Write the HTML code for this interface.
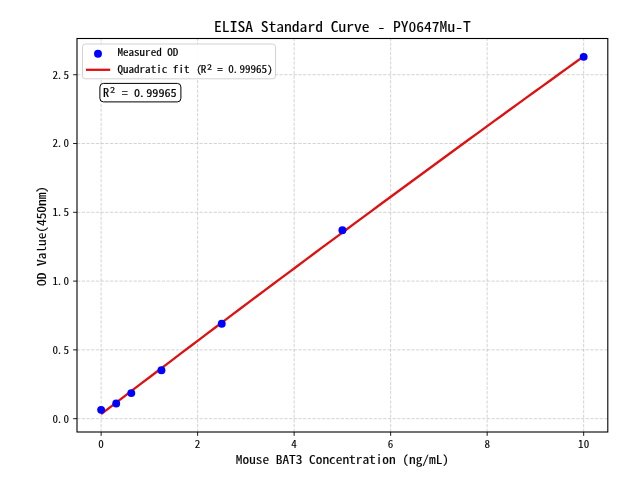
<!DOCTYPE html>
<html><head><meta charset="utf-8"><title>ELISA Standard Curve - PY0647Mu-T</title>
<style>html,body{margin:0;padding:0;background:#fff;width:640px;height:480px;overflow:hidden}svg{display:block}</style>
</head><body>
<svg width="640" height="480" viewBox="0 0 640 480">
<rect width="640" height="480" fill="#ffffff"/>
<g stroke="#b0b0b0" stroke-opacity="0.62" stroke-width="0.89" stroke-dasharray="3.29 1.42" fill="none">
<line x1="101.13" y1="432" x2="101.13" y2="38.5"/>
<line x1="197.64" y1="432" x2="197.64" y2="38.5"/>
<line x1="294.15" y1="432" x2="294.15" y2="38.5"/>
<line x1="390.65" y1="432" x2="390.65" y2="38.5"/>
<line x1="487.16" y1="432" x2="487.16" y2="38.5"/>
<line x1="583.67" y1="432" x2="583.67" y2="38.5"/>
<line x1="77" y1="418.68" x2="607.8" y2="418.68"/>
<line x1="77" y1="349.89" x2="607.8" y2="349.89"/>
<line x1="77" y1="281.1" x2="607.8" y2="281.1"/>
<line x1="77" y1="212.31" x2="607.8" y2="212.31"/>
<line x1="77" y1="143.53" x2="607.8" y2="143.53"/>
<line x1="77" y1="74.74" x2="607.8" y2="74.74"/>
</g>
<polyline points="101.13,414.11 109.31,407.87 117.48,401.63 125.66,395.4 133.84,389.17 142.02,382.95 150.2,376.73 158.38,370.53 166.56,364.33 174.74,358.13 182.91,351.94 191.09,345.76 199.27,339.58 207.45,333.41 215.63,327.25 223.81,321.09 231.99,314.94 240.17,308.79 248.34,302.66 256.52,296.52 264.7,290.4 272.88,284.28 281.06,278.16 289.24,272.06 297.42,265.96 305.6,259.86 313.77,253.77 321.95,247.69 330.13,241.62 338.31,235.55 346.49,229.48 354.67,223.43 362.85,217.38 371.03,211.33 379.2,205.29 387.38,199.26 395.56,193.24 403.74,187.22 411.92,181.2 420.1,175.2 428.28,169.2 436.46,163.2 444.63,157.22 452.81,151.23 460.99,145.26 469.17,139.29 477.35,133.33 485.53,127.37 493.71,121.42 501.89,115.48 510.06,109.54 518.24,103.61 526.42,97.68 534.6,91.77 542.78,85.85 550.96,79.95 559.14,74.05 567.32,68.15 575.49,62.27 583.67,56.39" fill="none" stroke="#e01010" stroke-width="2.3" stroke-linejoin="round"/>
<circle cx="101.13" cy="409.87" r="3.95" fill="#0000ff"/>
<circle cx="116.21" cy="403.54" r="3.95" fill="#0000ff"/>
<circle cx="131.29" cy="393.09" r="3.95" fill="#0000ff"/>
<circle cx="161.45" cy="370.25" r="3.95" fill="#0000ff"/>
<circle cx="221.76" cy="323.75" r="3.95" fill="#0000ff"/>
<circle cx="342.4" cy="230.2" r="3.95" fill="#0000ff"/>
<circle cx="583.67" cy="56.85" r="3.95" fill="#0000ff"/>
<rect x="77" y="38.5" width="530.8" height="393.5" fill="none" stroke="#000" stroke-width="1.1"/>
<g stroke="#000" stroke-width="0.89">
<line x1="101.13" y1="432" x2="101.13" y2="435.89"/>
<line x1="197.64" y1="432" x2="197.64" y2="435.89"/>
<line x1="294.15" y1="432" x2="294.15" y2="435.89"/>
<line x1="390.65" y1="432" x2="390.65" y2="435.89"/>
<line x1="487.16" y1="432" x2="487.16" y2="435.89"/>
<line x1="583.67" y1="432" x2="583.67" y2="435.89"/>
<line x1="77" y1="418.68" x2="73.11" y2="418.68"/>
<line x1="77" y1="349.89" x2="73.11" y2="349.89"/>
<line x1="77" y1="281.1" x2="73.11" y2="281.1"/>
<line x1="77" y1="212.31" x2="73.11" y2="212.31"/>
<line x1="77" y1="143.53" x2="73.11" y2="143.53"/>
<line x1="77" y1="74.74" x2="73.11" y2="74.74"/>
</g>
<g font-family="'Noto Sans Mono CJK SC', 'IPAGothic', 'WenQuanYi Zen Hei Mono', monospace" fill="#000" stroke="#000">
<text xml:space="preserve" transform="translate(101.13 447.6) scale(1 0.93)" font-size="11.11" stroke-width="0.1" text-anchor="middle">0</text>
<text xml:space="preserve" transform="translate(197.64 447.6) scale(1 0.93)" font-size="11.11" stroke-width="0.1" text-anchor="middle">2</text>
<text xml:space="preserve" transform="translate(294.15 447.6) scale(1 0.93)" font-size="11.11" stroke-width="0.1" text-anchor="middle">4</text>
<text xml:space="preserve" transform="translate(390.65 447.6) scale(1 0.93)" font-size="11.11" stroke-width="0.1" text-anchor="middle">6</text>
<text xml:space="preserve" transform="translate(487.16 447.6) scale(1 0.93)" font-size="11.11" stroke-width="0.1" text-anchor="middle">8</text>
<text xml:space="preserve" transform="translate(583.67 447.6) scale(1 0.93)" font-size="11.11" stroke-width="0.1" text-anchor="middle">10</text>
<text xml:space="preserve" transform="translate(69.1 422.63) scale(1 0.93)" font-size="11.11" stroke-width="0.1" text-anchor="end">0<tspan dx="-1.25">.</tspan><tspan dx="1.25">0</tspan></text>
<text xml:space="preserve" transform="translate(69.1 353.84) scale(1 0.93)" font-size="11.11" stroke-width="0.1" text-anchor="end">0<tspan dx="-1.25">.</tspan><tspan dx="1.25">5</tspan></text>
<text xml:space="preserve" transform="translate(69.1 285.05) scale(1 0.93)" font-size="11.11" stroke-width="0.1" text-anchor="end">1<tspan dx="-1.25">.</tspan><tspan dx="1.25">0</tspan></text>
<text xml:space="preserve" transform="translate(69.1 216.26) scale(1 0.93)" font-size="11.11" stroke-width="0.1" text-anchor="end">1<tspan dx="-1.25">.</tspan><tspan dx="1.25">5</tspan></text>
<text xml:space="preserve" transform="translate(69.1 147.48) scale(1 0.93)" font-size="11.11" stroke-width="0.1" text-anchor="end">2<tspan dx="-1.25">.</tspan><tspan dx="1.25">0</tspan></text>
<text xml:space="preserve" transform="translate(69.1 78.69) scale(1 0.93)" font-size="11.11" stroke-width="0.1" text-anchor="end">2<tspan dx="-1.25">.</tspan><tspan dx="1.25">5</tspan></text>
<text xml:space="preserve" transform="translate(342.4 463.6) scale(1 0.87)" font-size="13.33" stroke-width="0.15" text-anchor="middle">Mouse BAT3 Concentration (ng/mL)</text>
<text xml:space="preserve" transform="translate(45.6 236) rotate(-90) scale(1 0.87)" font-size="13.33" stroke-width="0.15" text-anchor="middle">OD Value(450nm)</text>
<text xml:space="preserve" transform="translate(342.4 31.7) scale(1 0.9)" font-size="15.56" stroke-width="0.12" text-anchor="middle">ELISA Standard Curve - PY0647Mu-T</text>
</g>
<rect x="82.5" y="44" width="193" height="34.8" rx="2.8" fill="#fff" fill-opacity="0.9" stroke="#cccccc" stroke-width="0.89"/>
<circle cx="98" cy="53.7" r="3.95" fill="#0000ff"/>
<line x1="86" y1="69.8" x2="110.2" y2="69.8" stroke="#e01010" stroke-width="2.3"/>
<rect x="99.9" y="83.4" width="81" height="18.5" rx="3.6" fill="#fff" stroke="#000" stroke-width="1"/>
<g font-family="'Noto Sans Mono CJK SC', 'IPAGothic', 'WenQuanYi Zen Hei Mono', monospace" fill="#000" stroke="#000">
<text xml:space="preserve" transform="translate(117.4 55.9) scale(1 0.9)" font-size="11.11" stroke-width="0.2">Measured OD</text>
<text xml:space="preserve" transform="translate(117.4 73) scale(1 0.9)" font-size="11.11" stroke-width="0.2">Quadratic fit </text>
<text xml:space="preserve" transform="translate(196.3 73) scale(1 0.9)" font-size="11.11" stroke-width="0.2">(</text>
<text xml:space="preserve" transform="translate(200.8 73) scale(1 0.9)" font-size="11.11" stroke-width="0.2">R</text>
<text xml:space="preserve" transform="translate(206.8 75.1) scale(1 0.9)" font-size="13.4" stroke-width="0.2">²</text>
<text xml:space="preserve" transform="translate(211.7 73) scale(1 0.9)" font-size="11.11" stroke-width="0.2"> = 0<tspan dx="-1.25">.</tspan><tspan dx="1.25">99965)</tspan></text>
<text xml:space="preserve" transform="translate(103.05 97.4) scale(1 0.9)" font-size="12.22" stroke-width="0.2">R</text>
<text xml:space="preserve" transform="translate(109.8 97.8) scale(1 0.9)" font-size="13.9" stroke-width="0.2">²</text>
<text xml:space="preserve" transform="translate(115.7 97.4) scale(1 0.9)" font-size="12.22" stroke-width="0.2"> = 0<tspan dx="-1.4">.</tspan><tspan dx="1.4">99965</tspan></text>
</g>
</svg>
</body></html>
